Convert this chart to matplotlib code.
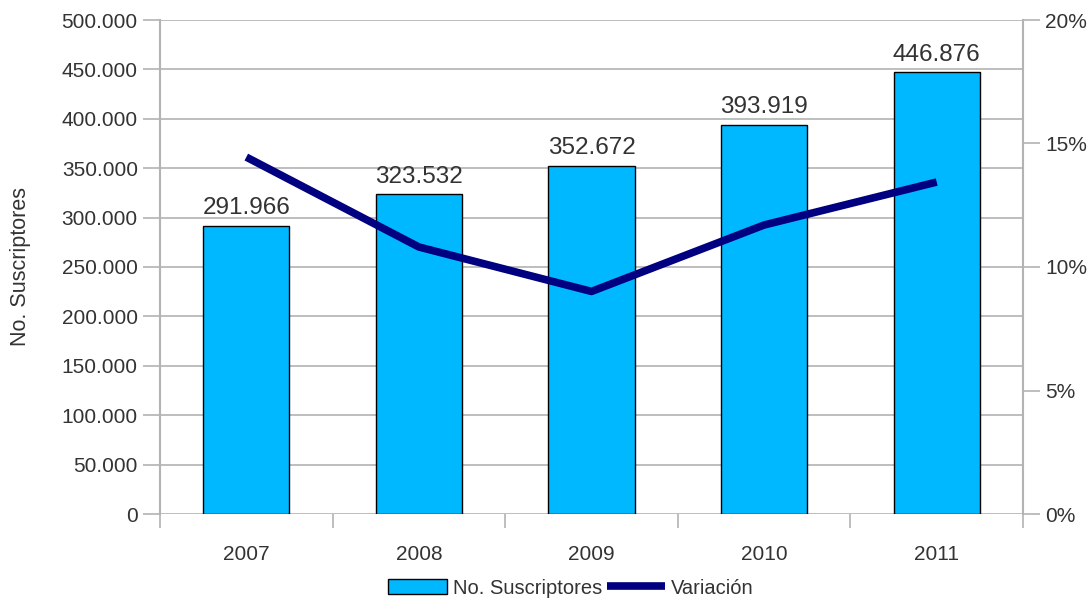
import numpy as np
import matplotlib.pyplot as plt
from matplotlib.ticker import FuncFormatter, FixedLocator

plt.rcParams['font.family'] = ['Liberation Sans', 'DejaVu Sans']

years = ['2007', '2008', '2009', '2010', '2011']
suscriptores = [291966, 323532, 352672, 393919, 446876]
variacion = [14.45, 10.81, 9.01, 11.70, 13.44]  # %

grey = '#b3b3b3'
txt = '#333333'

fig = plt.figure(figsize=(10.91, 6.01), dpi=100)
ax1 = fig.add_axes([160/1091, 1-514/601, (1023-160)/1091, (514-20)/601])
x = np.arange(len(years))
bars = ax1.bar(x, suscriptores, width=0.5, color='#00b8ff', edgecolor='black',
               linewidth=1, zorder=3, label='No. Suscriptores')
for xi, v in zip(x, suscriptores):
    ax1.text(xi, v + 6500, f'{v:,}'.replace(',', '.'), ha='center', va='bottom',
             fontsize=17.5, color=txt, zorder=5)

ax1.set_xlim(-0.5, len(years) - 0.5)
ax1.set_ylim(0, 500000)
ax1.set_yticks(np.arange(0, 500001, 50000))
ax1.yaxis.set_major_formatter(FuncFormatter(lambda v, p: f'{int(v):,}'.replace(',', '.')))
ax1.set_xticks(x)
ax1.set_xticklabels(years)
ax1.xaxis.set_minor_locator(FixedLocator(np.arange(-0.5, len(years), 1)))
ax1.tick_params(axis='x', which='major', length=0, labelsize=15, labelcolor=txt, pad=22)
ax1.tick_params(axis='x', which='minor', length=10, color=grey, width=1.2)
ax1.tick_params(axis='y', length=12, color=grey, width=1.2, labelsize=15, labelcolor=txt, pad=4)
ax1.grid(axis='y', color=grey, linewidth=1.2, zorder=0)
ax1.set_axisbelow(True)
for s in ['top', 'bottom']:
    ax1.spines[s].set_visible(False)
for s in ['left', 'right']:
    ax1.spines[s].set_color(grey)
    ax1.spines[s].set_linewidth(1.5)
ax1.set_ylabel('No. Suscriptores', fontsize=15.5, color=txt, labelpad=22)

ax2 = ax1.twinx()
line, = ax2.plot(x, variacion, color='#000080', linewidth=5.5, zorder=4,
                 solid_capstyle='butt', label='Variación')
ax2.set_ylim(0, 20)
ax2.set_yticks([0, 5, 10, 15, 20])
ax2.yaxis.set_major_formatter(FuncFormatter(lambda v, p: f'{int(v)}%'))
ax2.tick_params(axis='y', length=12, color=grey, width=1.2, labelsize=15, labelcolor=txt, pad=4)
for s in ax2.spines.values():
    s.set_visible(False)
ax1.set_zorder(1)
ax1.patch.set_visible(False)
ax2.set_zorder(2)

fig.legend([bars, line], ['No. Suscriptores', 'Variación'], loc='center',
           bbox_to_anchor=(571/1091, 1-588/601), ncol=2, frameon=False,
           fontsize=14.5, handlelength=2.9, handletextpad=0.3, columnspacing=0.25,
           labelcolor=txt)

fig.savefig('out.png', dpi=100)
